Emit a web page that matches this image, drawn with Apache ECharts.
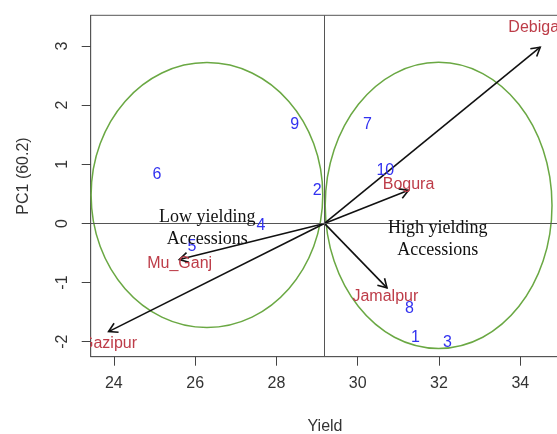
<!DOCTYPE html>
<html>
<head>
<meta charset="utf-8">
<script src="https://cdn.jsdelivr.net/npm/echarts@6/dist/echarts.min.js"></script>
<style>html,body{margin:0;padding:0;background:#fff;}#chart{width:557px;height:434px;}</style>
</head>
<body>
<div id="chart"></div>
<script>
// Accession scores (blue numbers)
const accNames = ['1','2','3','4','5','6','7','8','9','10'];
const accX = [31.42, 29.00, 32.21, 27.62, 25.92, 25.06, 30.24, 31.27, 28.45, 30.68];
const accY = [-1.93, 0.55, -2.01, -0.03, -0.40, 0.83, 1.68, -1.44, 1.68, 0.90];

// Variable loadings (arrows)
const varNames = ['Debiga','Bogura','Mu_Ganj','Gazipur','Jamalpur'];
const arrowOrigin = [29.18, 0];
const varTipX = [34.49, 31.25, 25.61, 23.87, 30.72];
const varTipY = [2.98, 0.56, -0.61, -1.83, -1.09];
const varLabelX = [34.33, 31.25, 25.62, 23.88, 30.68];
const varLabelY = [3.32, 0.65, -0.68, -2.04, -1.23];

// Group ellipses: centre x, centre y, radius x, radius y
const ellCx = [26.29, 31.99];
const ellCy = [0.48, 0.305];
const ellRx = [2.85, 2.79];
const ellRy = [2.24, 2.42];

// Group annotations
const groupText = ['Low yielding\nAccessions', 'High yielding\nAccessions'];
const groupX = [26.30, 31.97];
const groupY = [-0.08, -0.265];

// Axis ticks
const xTicks = [24, 26, 28, 30, 32, 34];
const yTicks = [-2, -1, 0, 1, 2, 3];

const SANS = '"Liberation Sans", Arial, sans-serif';
const SERIF = '"Liberation Serif", "Times New Roman", serif';
const RED = '#bd3c48';
const BLUE = '#3232f0';
const GREEN = '#6aa843';

const chart = echarts.init(document.getElementById('chart'), null, {renderer: 'canvas'});

const option = {
  animation: false,
  backgroundColor: '#fff',
  grid: {
    left: 90.7, top: 15.3, width: 480, height: 341.4,
    outerBoundsMode: 'none', containLabel: false,
    show: true, borderColor: '#555', borderWidth: 1, backgroundColor: 'transparent'
  },
  xAxis: {
    type: 'value', min: 23.43, max: 35.24,
    splitLine: {show: false},
    axisLine: {show: true, onZero: false, lineStyle: {color: '#555', width: 1}},
    axisTick: {show: true, inside: false, customValues: xTicks, length: 9, lineStyle: {color: '#444', width: 1}},
    axisLabel: {show: true, customValues: xTicks, fontSize: 16, fontFamily: SANS, color: '#333', margin: 19}
  },
  yAxis: {
    type: 'value', min: -2.254, max: 3.52,
    splitLine: {show: false},
    axisLine: {show: true, onZero: false, lineStyle: {color: '#555', width: 1}},
    axisTick: {show: true, inside: false, customValues: yTicks, length: 9, lineStyle: {color: '#444', width: 1}},
    axisLabel: {show: true, customValues: yTicks, fontSize: 16, fontFamily: SANS, color: '#333', rotate: 90, margin: 20}
  },
  graphic: [{
    type: 'text', x: 24, y: 176, rotation: Math.PI / 2,
    style: {text: 'PC1 (60.2)', font: '16px ' + SANS, fill: '#333', align: 'center', verticalAlign: 'middle'}
  }, {
    type: 'text', x: 325, y: 427,
    style: {text: 'Yield', font: '16px ' + SANS, fill: '#333', align: 'center', verticalAlign: 'middle'}
  }],
  series: [
    {
      type: 'custom', name: 'ellipses', z: 2,
      data: ellCx.map((c, i) => [c, ellCy[i], ellRx[i], ellRy[i]]),
      renderItem: function (params, api) {
        const c = api.coord([api.value(0), api.value(1)]);
        const s = api.size([api.value(2), api.value(3)]);
        return {
          type: 'ellipse',
          shape: {cx: c[0], cy: c[1], rx: s[0], ry: s[1]},
          style: {fill: 'none', stroke: GREEN, lineWidth: 1.5}
        };
      },
      markLine: {
        silent: true, symbol: ['none', 'none'],
        label: {show: false},
        lineStyle: {color: '#555', type: 'solid', width: 1},
        data: [{xAxis: arrowOrigin[0]}, {yAxis: arrowOrigin[1]}]
      }
    },
    {
      type: 'custom', name: 'arrows', z: 3,
      data: varTipX.map((x, i) => [arrowOrigin[0], arrowOrigin[1], x, varTipY[i]]),
      renderItem: function (params, api) {
        const p0 = api.coord([api.value(0), api.value(1)]);
        const p1 = api.coord([api.value(2), api.value(3)]);
        const ang = Math.atan2(p1[1] - p0[1], p1[0] - p0[0]);
        const L = 10, a = Math.PI / 6;
        const h1 = [p1[0] - L * Math.cos(ang - a), p1[1] - L * Math.sin(ang - a)];
        const h2 = [p1[0] - L * Math.cos(ang + a), p1[1] - L * Math.sin(ang + a)];
        return {
          type: 'group',
          children: [
            {type: 'line', shape: {x1: p0[0], y1: p0[1], x2: p1[0], y2: p1[1]}, style: {stroke: '#111', lineWidth: 1.6}},
            {type: 'polyline', shape: {points: [h1, p1, h2]}, style: {stroke: '#111', fill: 'none', lineWidth: 1.6}}
          ]
        };
      }
    },
    {
      type: 'custom', name: 'varLabels', z: 4, clip: true,
      data: varLabelX.map((x, i) => [x, varLabelY[i], i]),
      renderItem: function (params, api) {
        const p = api.coord([api.value(0), api.value(1)]);
        return {
          type: 'text', x: p[0], y: p[1],
          style: {text: varNames[api.value(2)], font: '16px ' + SANS, fill: RED, align: 'center', verticalAlign: 'middle'}
        };
      }
    },
    {
      type: 'custom', name: 'accessions', z: 5, clip: true,
      data: accX.map((x, i) => [x, accY[i], i]),
      renderItem: function (params, api) {
        const p = api.coord([api.value(0), api.value(1)]);
        return {
          type: 'text', x: p[0], y: p[1],
          style: {text: accNames[api.value(2)], font: '16px ' + SANS, fill: BLUE, align: 'center', verticalAlign: 'middle'}
        };
      }
    },
    {
      type: 'custom', name: 'groups', z: 6,
      data: groupX.map((x, i) => [x, groupY[i], i]),
      renderItem: function (params, api) {
        const p = api.coord([api.value(0), api.value(1)]);
        return {
          type: 'text', x: p[0], y: p[1],
          style: {text: groupText[api.value(2)], font: '18px ' + SERIF, fill: '#111', align: 'center', verticalAlign: 'middle', lineHeight: 22}
        };
      }
    }
  ]
};
chart.setOption(option);
</script>
</body>
</html>
